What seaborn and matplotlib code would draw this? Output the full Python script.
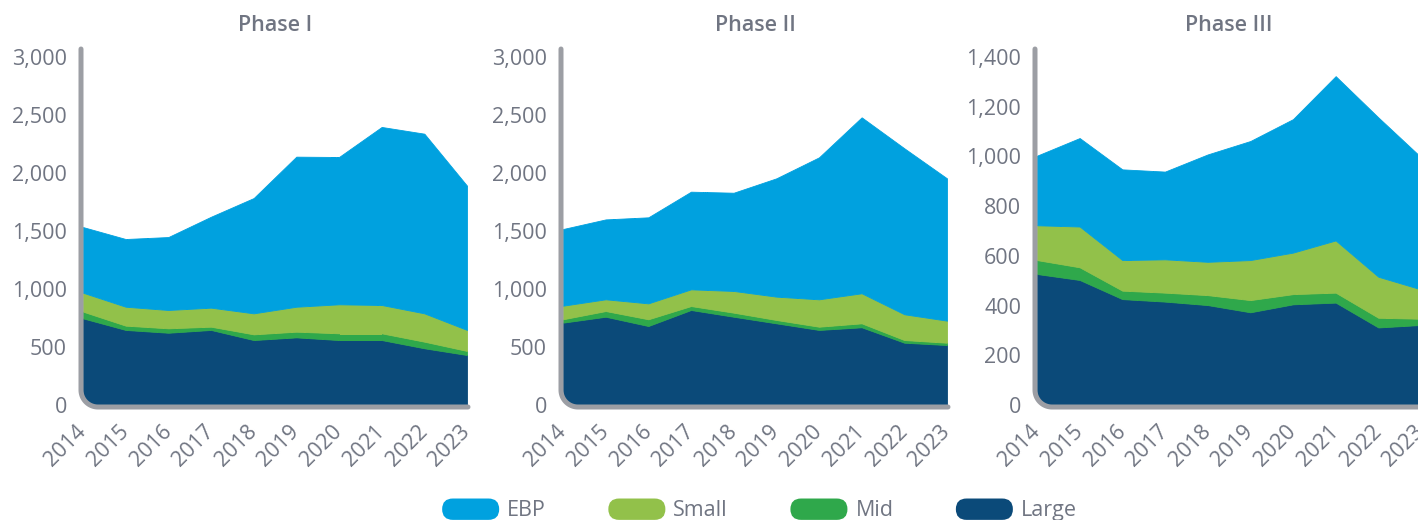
import numpy as np
import pandas as pd
import matplotlib
matplotlib.use("Agg")
import matplotlib.pyplot as plt
import seaborn as sns
from matplotlib.lines import Line2D
from matplotlib.path import Path
from matplotlib.patches import PathPatch, FancyBboxPatch, Patch
from matplotlib.legend_handler import HandlerPatch
from matplotlib.ticker import FuncFormatter

# ---------------- data ----------------
years = [2014, 2015, 2016, 2017, 2018, 2019, 2020, 2021, 2022, 2023]
phases = ["Phase I", "Phase II", "Phase III"]
series = ["EBP", "Small", "Mid", "Large"]

p1_large = [747, 647, 623, 647, 560, 583, 560, 560, 489, 431]
p1_mid = [58, 37, 38, 28, 49, 49, 58, 58, 57, 35]
p1_small = [163, 163, 158, 164, 181, 215, 250, 244, 244, 181]
p1_ebp = [566, 584, 629, 784, 994, 1294, 1270, 1535, 1549, 1244]

p2_large = [710, 761, 681, 819, 761, 704, 647, 670, 537, 517]
p2_mid = [29, 49, 58, 34, 35, 29, 28, 34, 23, 20]
p2_small = [117, 101, 137, 144, 187, 201, 236, 259, 222, 190]
p2_ebp = [661, 689, 742, 842, 847, 1020, 1224, 1517, 1431, 1227]

p3_large = [527, 503, 426, 416, 402, 373, 405, 412, 312, 322]
p3_mid = [56, 51, 34, 36, 40, 49, 41, 40, 39, 25]
p3_small = [140, 164, 123, 134, 134, 161, 167, 210, 165, 118]
p3_ebp = [280, 356, 365, 353, 432, 479, 537, 661, 641, 532]

y_max = [3000, 3000, 1400]
y_step = [500, 500, 200]

colors = {"EBP": "#00a1df", "Small": "#92c14a", "Mid": "#2fa84b", "Large": "#0b4a79"}
text_gray = "#707582"
spine_gray = "#9c9ea4"

rows = []
for ph, vals in zip(phases, [(p1_ebp, p1_small, p1_mid, p1_large),
                             (p2_ebp, p2_small, p2_mid, p2_large),
                             (p3_ebp, p3_small, p3_mid, p3_large)]):
    for s, v in zip(series, vals):
        for y, val in zip(years, v):
            rows.append({"phase": ph, "series": s, "year": y, "value": val})
df = pd.DataFrame(rows)

# ---------------- style ----------------
sns.set_theme(style="white")
plt.rcParams['font.family'] = ['Open Sans', 'DejaVu Sans']
FS = 15.5

FW, FH = 1418, 520
fig = plt.figure(figsize=(FW / 100, FH / 100), dpi=100)

lefts = [83, 563, 1037]
W, H = 384, 348
bottom_px = 115
r = 15.0   # corner radius (px)
off = 2.0  # spine offset (px)


def arc(cx, cy, rx, ry, a0, a1, n=30):
    t = np.linspace(np.radians(a0), np.radians(a1), n)
    return np.column_stack([cx + rx * np.cos(t), cy + ry * np.sin(t)])


for i, ph in enumerate(phases):
    ax = fig.add_axes([lefts[i] / FW, bottom_px / FH, W / FW, H / FH])
    sub = df[df.phase == ph].pivot(index="year", columns="series", values="value")
    order = ["Large", "Mid", "Small", "EBP"]
    polys = ax.stackplot(sub.index, *[sub[s].values for s in order],
                         colors=[colors[s] for s in order], linewidth=0.6)
    for p, s in zip(polys, order):
        p.set_edgecolor(colors[s])
    ax.set_xlim(years[0], years[-1])
    ax.set_ylim(0, y_max[i])
    for sp in ax.spines.values():
        sp.set_visible(False)
    ax.grid(False)

    # rounded clip for area (bottom-left corner)
    rx, ry = r / W, r / H
    verts = [(1.01, -0.02), (rx, -0.002)]
    verts += list(arc(rx, ry - 0.002, rx, ry, 270, 180))
    verts += [(0.0, 1.3), (1.01, 1.3), (1.01, -0.02)]
    clip = PathPatch(Path(verts, closed=True), transform=ax.transAxes,
                     facecolor="none", edgecolor="none")
    for p in polys:
        p.set_clip_path(clip)

    # rounded L-shaped axis line
    x0, y0 = -off / W, -off / H
    R = r + off
    Rx, Ry = R / W, R / H
    pts = [(x0, 1 + 8 / H), (x0, y0 + Ry)]
    pts += list(arc(x0 + Rx, y0 + Ry, Rx, Ry, 180, 270))
    pts += [(1 + 1 / W, y0)]
    pts = np.array(pts)
    ax.add_line(Line2D(pts[:, 0], pts[:, 1], transform=ax.transAxes, color=spine_gray,
                       lw=3.6, solid_capstyle="round", solid_joinstyle="round",
                       clip_on=False, zorder=5))

    ax.set_yticks(np.arange(0, y_max[i] + 1, y_step[i]))
    ax.yaxis.set_major_formatter(FuncFormatter(lambda v, p: f"{int(v):,}"))
    ax.set_xticks(years)
    ax.set_xticklabels([str(y) for y in years], rotation=45, ha="right", va="center",
                       rotation_mode="anchor")
    ax.tick_params(axis="x", length=0, pad=17, labelsize=FS, labelcolor=text_gray)
    ax.tick_params(axis="y", length=0, pad=11.5, labelsize=FS, labelcolor=text_gray)
    ax.set_xlabel("")
    ax.set_ylabel("")
    ax.set_title(ph, fontsize=FS, fontweight="semibold", color=text_gray, pad=18.5)


class RoundHandler(HandlerPatch):
    def create_artists(self, legend, orig_handle, xdescent, ydescent, width, height,
                       fontsize, trans):
        p = FancyBboxPatch((-xdescent, -ydescent), width, height,
                           boxstyle=f"round,pad=0,rounding_size={height / 2}",
                           facecolor=orig_handle.get_facecolor(), edgecolor="none",
                           transform=trans)
        return [p]


handles = [Patch(facecolor=colors[s], label=s) for s in series]
fig.legend(handles=handles, labels=series, loc="center",
           bbox_to_anchor=(759.5 / FW, 1 - 510 / FH), ncol=4, frameon=False,
           handlelength=2.65, handleheight=1.15, handletextpad=0.37,
           columnspacing=2.9, fontsize=FS, labelcolor=text_gray,
           handler_map={Patch: RoundHandler()})

fig.savefig("out.png", dpi=100)
